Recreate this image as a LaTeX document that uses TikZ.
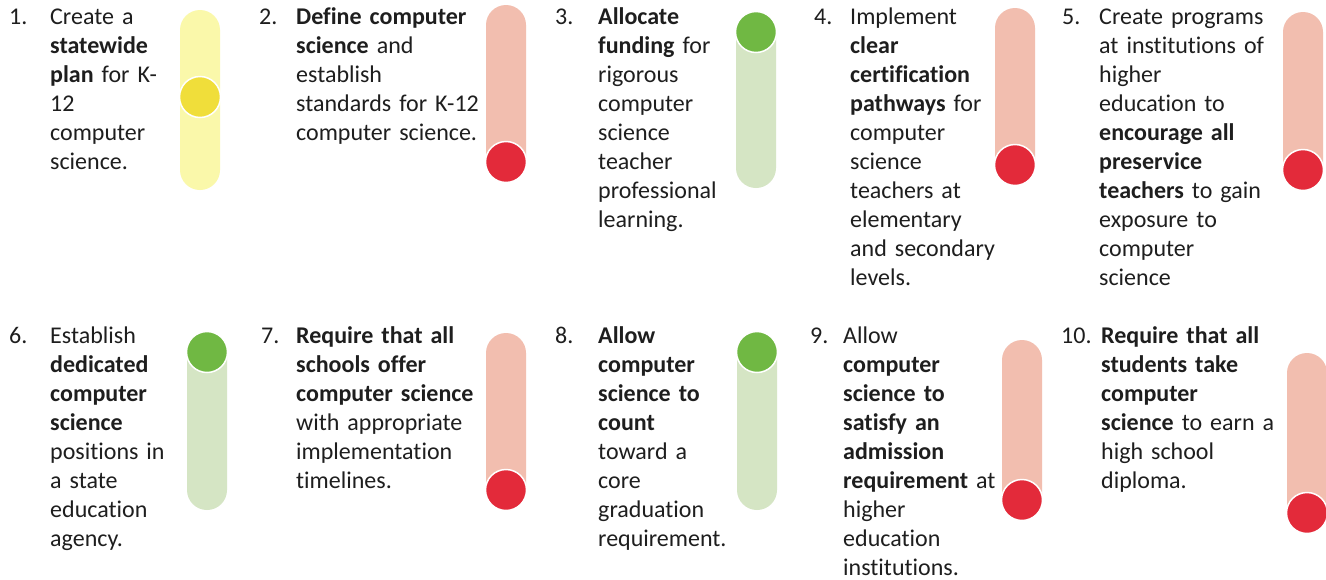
\documentclass[tikz,border=0pt]{standalone}
\usepackage{fontspec}
\setmainfont{Carlito}[Ligatures=NoCommon]
\definecolor{ink}{HTML}{1E1E1E}
\definecolor{yellowBarCol}{HTML}{FAF8AA}
\definecolor{yellowDotCol}{HTML}{F0DE3A}
\definecolor{redBarCol}{HTML}{F2BEAF}
\definecolor{redDotCol}{HTML}{E32A3A}
\definecolor{greenBarCol}{HTML}{D5E5C4}
\definecolor{greenDotCol}{HTML}{70B843}
\tikzset{
  num/.style={anchor=base west, inner sep=0pt, text=ink, font=\fontsize{24}{29}\selectfont},
  txt/.style={anchor=base west, inner sep=0pt, text=ink, text width=250pt, align=left, font=\fontsize{24}{29}\selectfont},
  dot/.style={circle, draw=white, line width=1.5pt, minimum size=41pt, inner sep=0pt},
}
% name, cx, top, bottom, cy, barcolor, dotcolor
\newcommand{\gauge}[7]{%
  \fill[fill=#6, rounded corners=20pt] (#2-20,#3) rectangle (#2+20,#4);
  \node[dot, fill=#7] (#1) at (#2,#5) {};
}
\begin{document}
\begin{tikzpicture}[x=1pt,y=-1pt]
\useasboundingbox (0,0) rectangle (1326,579);
\fill[white] (0,0) rectangle (1326,579);

% gauges, row 1
\gauge{g1}{200}{10}{190}{97}{yellowBarCol}{yellowDotCol}
\gauge{g2}{506}{5}{182}{162}{redBarCol}{redDotCol}
\gauge{g3}{756}{12}{188}{32}{greenBarCol}{greenDotCol}
\gauge{g4}{1015}{8}{185}{165}{redBarCol}{redDotCol}
\gauge{g5}{1303}{12}{190}{170}{redBarCol}{redDotCol}
% gauges, row 2
\gauge{g6}{207}{332}{510}{352}{greenBarCol}{greenDotCol}
\gauge{g7}{506}{333}{510}{490}{redBarCol}{redDotCol}
\gauge{g8}{757}{332}{510}{352}{greenBarCol}{greenDotCol}
\gauge{g9}{1022}{340}{520}{500}{redBarCol}{redDotCol}
\gauge{g10}{1307}{353}{533}{513}{redBarCol}{redDotCol}

% row 1 texts
\node[num] (n1) at (9,24) {1.};
\node[txt] (t1) at (50,24) {Create a\\\textbf{statewide}\\\textbf{plan} for K-\\12\\computer\\science.};
\node[num] (n2) at (259,24) {2.};
\node[txt] (t2) at (296,24) {\textbf{Define computer}\\\textbf{science} and\\establish\\standards for K-12\\computer science.};
\node[num] (n3) at (555,24) {3.};
\node[txt] (t3) at (598,24) {\textbf{Allocate}\\\textbf{funding} for\\rigorous\\computer\\science\\teacher\\professional\\learning.};
\node[num] (n4) at (814,24) {4.};
\node[txt] (t4) at (850,24) {Implement\\\textbf{clear}\\\textbf{certification}\\\textbf{pathways} for\\computer\\science\\teachers at\\elementary\\and secondary\\levels.};
\node[num] (n5) at (1062,24) {5.};
\node[txt] (t5) at (1099,24) {Create programs\\at institutions of\\higher\\education to\\\textbf{encourage all}\\\textbf{preservice}\\\textbf{teachers} to gain\\exposure to\\computer\\science};

% row 2 texts
\node[num] (n6) at (9,343) {6.};
\node[txt] (t6) at (50,343) {Establish\\\textbf{dedicated}\\\textbf{computer}\\\textbf{science}\\positions in\\a state\\education\\agency.};
\node[num] (n7) at (261,343) {7.};
\node[txt] (t7) at (296,343) {\textbf{Require that all}\\\textbf{schools offer}\\\textbf{computer science}\\with appropriate\\implementation\\timelines.};
\node[num] (n8) at (555,343) {8.};
\node[txt] (t8) at (598,343) {\textbf{Allow}\\\textbf{computer}\\\textbf{science to}\\\textbf{count}\\toward a\\core\\graduation\\requirement.};
\node[num] (n9) at (810,343) {9.};
\node[txt] (t9) at (843,343) {Allow\\\textbf{computer}\\\textbf{science to}\\\textbf{satisfy an}\\\textbf{admission}\\\textbf{requirement} at\\higher\\education\\institutions.};
\node[num] (n10) at (1061,343) {10.};
\node[txt] (t10) at (1101,343) {\textbf{Require that all}\\\textbf{students take}\\\textbf{computer}\\\textbf{science} to earn a\\high school\\diploma.};
\end{tikzpicture}
\end{document}
